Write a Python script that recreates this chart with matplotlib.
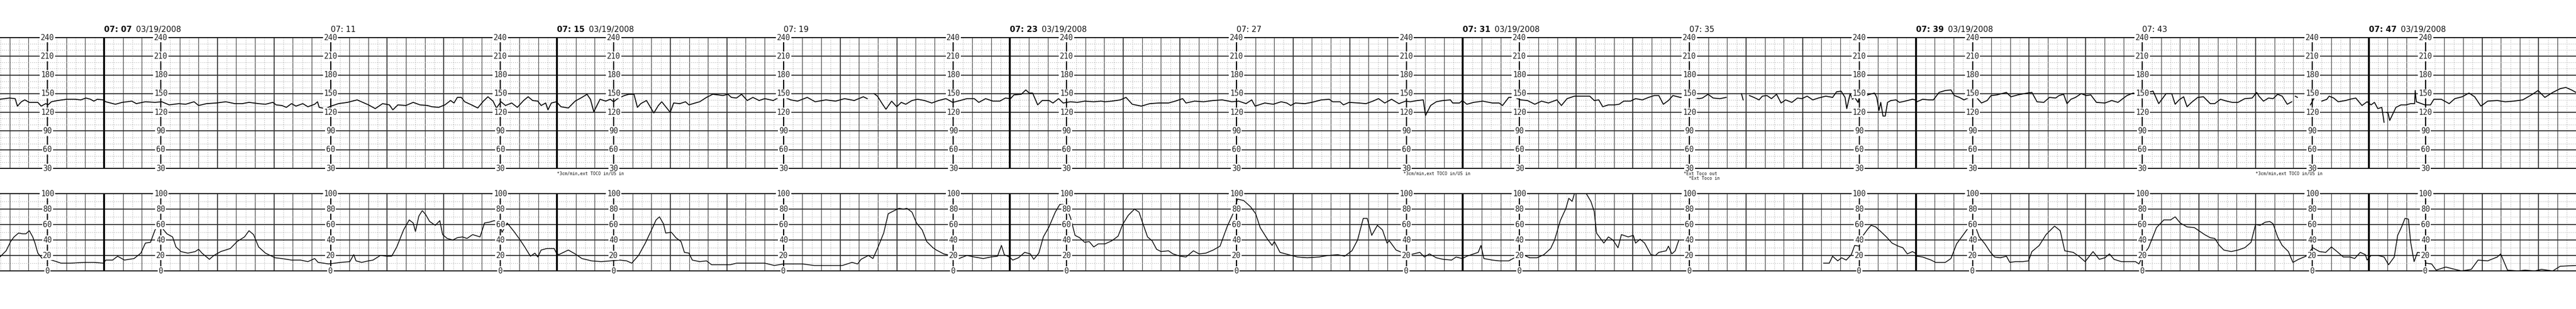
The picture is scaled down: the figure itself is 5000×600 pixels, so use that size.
import numpy as np
import matplotlib.pyplot as plt
from matplotlib.ticker import MultipleLocator

nan = np.nan

## trace samples, time in minutes after 07:00 ##
fhr_minutes = [
    5.16, 5.33, 5.43, 5.47, 5.54, 5.60, 5.68, 5.83, 5.89, 5.97, 6.01, 6.07, 6.18, 6.34, 6.49, 6.59, 6.68, 6.76, 6.82, 6.88,
    6.99, 7.03, 7.20, 7.32, 7.49, 7.57, 7.73, 7.90, 8.02, 8.15, 8.32, 8.44, 8.59, 8.67, 8.81, 8.98, 9.15, 9.31, 9.44, 9.56,
    9.73, 9.85, 9.98, 10.04, 10.14, 10.22, 10.31, 10.39, 10.51, 10.60, 10.72, 10.77, 10.80, 10.91, 11.01, 11.14, 11.30, 11.47, 11.57,
    11.67, 11.79, 11.92, 12.04, 12.10, 12.19, 12.33, 12.46, 12.58, 12.71, 12.79, 12.91, 13.02, 13.12, 13.18, 13.24, 13.31, 13.37,
    13.49, 13.60, 13.70, 13.78, 13.87, 13.93, 14.01, 14.09, 14.20, 14.30, 14.41, 14.49, 14.57, 14.66, 14.72, 14.80, 14.84, 14.90,
    14.99, 15.07, 15.20, 15.32, 15.44, 15.53, 15.59, 15.65, 15.76, 15.86, 15.94, 16.00, 16.07, 16.19, 16.27, 16.36, 16.42, 16.48,
    16.58, 16.71, 16.79, 16.85, 16.92, 17.00, 17.06, 17.17, 17.27, 17.33, 17.44, 17.52, 17.64, 17.75, 17.85, 17.93, 18.02, 18.08,
    18.17, 18.26, 18.36, 18.46, 18.57, 18.67, 18.82, 18.92, 19.02, 19.13, 19.25, 19.42, 19.56, 19.75, 19.92, 20.08, 20.25, 20.41,
    20.48, 20.54, 20.60, 20.66, 20.75, 20.81, 20.91, 21.00, 21.08, 21.16, 21.27, 21.37, 21.49, 21.62, 21.74, 21.87, 21.99, 22.12,
    22.24, 22.37, 22.45, 22.57, 22.70, 22.82, 22.92, 23.01, 23.07, 23.20, 23.28, 23.34, 23.40, 23.49, 23.57, 23.69, 23.76, 23.86,
    23.94, 24.07, 24.19, 24.32, 24.48, 24.61,
    24.68, 24.80, 24.95, 25.05, 25.16, 25.32, 25.47, 25.63, 25.80, 25.92, 26.05, 26.11, 26.26, 26.42, 26.59, 26.75, 26.92, 27.04,
    27.17, 27.27, 27.33, 27.50, 27.65, 27.79, 27.89, 27.96, 28.04, 28.21, 28.33, 28.50, 28.64, 28.70, 28.83, 28.89, 28.99, 29.16,
    29.29, 29.41, 29.51, 29.62, 29.74, 29.87, 29.99, 30.07, 30.20, 30.30, 30.34, 30.43, 30.53, 30.65, 30.78, 30.82, 30.94, 30.99, 31.07,
    31.19, 31.35, 31.52, 31.64, 31.70, 31.81, 31.91, 32.02, 32.14, 32.27, 32.39, 32.51, 32.66, 32.74, 32.84, 32.97, 33.09, 33.24,
    33.32, 33.40, 33.47, 33.57, 33.68, 33.76, 33.84, 33.96, 34.05, 34.17, 34.28, 34.38, 34.46, 34.54, 34.63, 34.71, 34.84, 34.92,
    35.04, 35.17, 35.23, 35.33, 35.42, 35.54, 35.65, 35.75, 35.92, 35.95, 36.00, 36.06, 36.14, 36.23, 36.29, 36.37, 36.45, 36.54,
    36.62, 36.70, 36.81, 36.91, 36.99, 37.08, 37.18, 37.28, 37.41, 37.53, 37.60, 37.68,
    37.75, 37.78, 37.84, 37.88, 37.92, 37.98, 38.00, 38.06, 38.15, 38.27, 38.31, 38.35, 38.38, 38.42, 38.46, 38.50, 38.56, 38.65,
    38.71, 38.81, 38.94, 38.99, 39.02, 39.12, 39.23, 39.31, 39.41, 39.52, 39.62, 39.68, 39.77, 39.85, 39.95, 40.06, 40.16, 40.26,
    40.33, 40.43, 40.60, 40.68, 40.80, 40.97, 41.05, 41.14, 41.26, 41.36, 41.47, 41.53, 41.61, 41.67, 41.74, 41.82, 41.92, 42.01,
    42.09, 42.19, 42.34, 42.46, 42.57, 42.67, 42.73, 42.84, 42.96, 43.04, 43.19, 43.29, 43.42, 43.52, 43.58, 43.65, 43.73, 43.79,
    43.87, 43.98, 44.08,
    44.20, 44.28, 44.38, 44.49, 44.59, 44.69, 44.81, 44.94, 45.02, 45.06, 45.14, 45.23, 45.31, 45.39, 45.47, 45.56, 45.64, 45.67,
    45.70, 45.74, 45.80, 45.97, 46.07, 46.12, 46.17, 46.26, 46.30, 46.38, 46.46, 46.59, 46.67, 46.77, 46.88, 46.97, 47.04, 47.10,
    47.16, 47.23, 47.27, 47.29, 47.31, 47.34, 47.37, 47.48, 47.57, 47.66, 47.74, 47.81, 47.82, 47.84, 47.99, 48.09, 48.15, 48.28,
    48.42, 48.52, 48.65, 48.77, 48.87, 48.98, 49.10, 49.27, 49.41, 49.56, 49.72, 49.89, 49.99, 50.11, 50.25, 50.38, 50.48, 50.58, 50.66,
]
fhr_bpm = [
    141, 143, 142, 130, 137, 140, 136, 136, 130, 134, 132, 137, 139, 141, 141, 140, 143, 141, 138, 141,
    140, 137, 133, 136, 138, 134, 137, 136, 137, 132, 134, 133, 137, 131, 134, 135, 137, 134, 134, 136,
    134, 133, 136, 132, 131, 128, 134, 130, 134, 129, 133, 137, 128, 126, 130, 134, 136, 140, 136,
    132, 126, 134, 132, 124, 132, 131, 136, 132, 131, 129, 128, 132, 139, 135, 144, 144, 137,
    132, 127, 138, 145, 138, 127, 137, 131, 135, 128, 139, 145, 139, 138, 131, 135, 124, 135,
    137, 129, 127, 138, 144, 149, 141, 121, 141, 138, 141, 137, 142, 147, 149, 149, 128, 134,
    139, 119, 131, 137, 129, 120, 135, 134, 137, 132, 135, 137, 144, 149, 148, 147, 149, 144,
    143, 149, 139, 144, 139, 142, 139, 144, 144, 140, 138, 144, 137, 140, 138, 142, 139, 145,
    142, nan, 150, 146, 133, 125, 138, 129, 136, 133, 139, 141, 139, 135, 139, 142, 136, 139,
    142, 142, 136, 142, 138, 138, 143, 142, 148, 149, 156, 151, 151, 132, 139, 139, 135, 142,
    135, 137, 136, 138, 137, 138,
    137, 138, 140, 144, 133, 130, 134, 135, 135, 138, 142, 135, 138, 137, 139, 140, 137, 138,
    134, 140, 130, 135, 133, 137, 135, 131, 135, 134, 136, 140, 141, 137, 137, 132, 136, 135,
    134, 138, 142, 135, 141, 134, 138, 137, 139, 140, 115, 131, 137, 139, 140, 135, 135, 139, 133,
    136, 138, 135, 135, 131, 144, 144, 140, 139, 133, 138, 135, 140, 131, 142, 146, 146, 146,
    139, 140, 129, 132, 132, 133, 138, 138, 142, 140, 144, 147, 147, 133, 139, 147, 144, 144,
    144, 142, 143, 149, 143, 142, 144, nan, 150, 140, nan, 147, 144, 140, 146, 147, 142, 149,
    135, 140, 136, 143, 142, 146, 140, 143, 146, 144, 153, 154,
    144, 126, 150, 141, 144, 136, 144, 144, 148, 151, 144, 123, 136, 114, 114, 136, 139, 140,
    136, 138, 141, 140, 137, 141, 140, 140, 152, 155, 156, 147, 144, 140, 144, 145, 135, 139,
    147, 148, 152, 145, 148, 151, 152, 137, 136, 144, 143, 147, 149, 134, 141, 144, 150, 147,
    148, 136, 135, 139, 136, 143, 147, 151, 147, 151, 154, 134, 150, 150, 133, 140, 145, 129,
    136, 144, 145,
    134, 134, 141, 138, 136, 136, 142, 143, 152, 146, 138, 143, 142, 149, 146, 133, 137, nan,
    146, 144, nan, 132, 149, nan, 138, 141, 146, 143, 137, 139, 141, 143, 131, 137, 132, 136,
    126, 128, 104, nan, 120, 119, 107, 128, 132, 132, 134, 134, 155, 137, 132, 132, 141, 141,
    134, 142, 145, 151, 145, 130, 138, 139, 137, 138, 140, 149, 155, 144, 152, 158, 160, 156, 152,
]

toco_minutes = [
    5.16, 5.27, 5.35, 5.41, 5.49, 5.56, 5.62, 5.68, 5.74, 5.78, 5.83, 5.91, 6.03, 6.16, 6.24, 6.41, 6.66, 6.82, 6.99, 7.03,
    7.15, 7.24, 7.36, 7.53, 7.65, 7.73, 7.82, 7.90, 7.94, 8.02, 8.11, 8.21, 8.27, 8.36, 8.48, 8.61, 8.67, 8.73, 8.86, 8.94,
    9.06, 9.23, 9.35, 9.48, 9.56, 9.64, 9.73, 9.85, 10.02, 10.14, 10.31, 10.47, 10.60, 10.72, 10.78, 10.97, 11.18, 11.34, 11.41,
    11.45, 11.55,
    11.67, 11.75, 11.88, 12.00, 12.08, 12.17, 12.29, 12.39, 12.46, 12.50, 12.56, 12.62, 12.68, 12.75, 12.85, 12.93, 12.98, 13.06,
    13.16, 13.24, 13.33, 13.41, 13.51, 13.64, 13.72, 13.80, 13.89, 13.97, 14.03, 14.12, 14.24, 14.34, 14.43, 14.53, 14.61, 14.66,
    14.72, 14.82, 14.95, 14.99, 15.03, 15.20, 15.32, 15.44, 15.61, 15.78, 15.94, 16.11, 16.23, 16.32, 16.44, 16.56, 16.65, 16.75,
    16.81, 16.88, 16.92, 17.02, 17.10, 17.19, 17.25, 17.33, 17.39, 17.52, 17.64, 17.73, 17.89, 18.06,
    18.17, 18.34, 18.51, 18.67, 18.84, 19.00, 19.17, 19.34, 19.54, 19.83, 20.04, 20.21, 20.31, 20.37, 20.50, 20.58, 20.66, 20.77,
    20.85, 20.93, 21.04, 21.12, 21.18, 21.27, 21.35, 21.45, 21.53, 21.64, 21.70, 21.83, 21.95, 22.10, 22.24, 22.37, 22.53, 22.66,
    22.78, 22.85, 22.90, 22.99, 23.05, 23.15, 23.26, 23.36, 23.42, 23.51, 23.59, 23.69, 23.80, 23.88, 23.94, 24.00, 24.07, 24.15,
    24.23, 24.32, 24.40, 24.48, 24.56,
    24.68, 24.80, 24.91, 24.99, 25.09, 25.20, 25.28, 25.34, 25.43, 25.51, 25.59, 25.67, 25.80, 25.88, 26.01, 26.11, 26.24, 26.34,
    26.46, 26.59, 26.71, 26.84, 26.94, 27.02, 27.13, 27.25, 27.34, 27.42, 27.54, 27.63, 27.67, 27.77, 27.92, 28.08, 28.25, 28.46,
    28.62, 28.79, 28.91, 29.04, 29.14, 29.24, 29.31, 29.39, 29.49, 29.58, 29.66, 29.70, 29.82, 29.95, 30.07, 30.24, 30.32, 30.41,
    30.53, 30.65, 30.80, 30.88, 30.99, 31.07,
    31.19, 31.27, 31.32, 31.37, 31.52, 31.64, 31.81, 31.91, 31.97, 32.06, 32.18, 32.31, 32.43, 32.55, 32.62, 32.72, 32.82, 32.87,
    32.93, 32.97, 33.18, 33.26, 33.32, 33.36, 33.49, 33.57, 33.65, 33.74, 33.80, 33.92, 34.01, 34.05, 34.13, 34.21, 34.32, 34.40,
    34.46, 34.59, 34.63, 34.69, 34.75, 34.81, 34.85, 37.37, 37.47, 37.53, 37.62,
    37.69, 37.77, 37.86, 37.92, 38.00, 38.06, 38.15, 38.21, 38.29, 38.38, 38.48, 38.58, 38.69, 38.77, 38.85, 38.94, 38.99, 39.02,
    39.12, 39.27, 39.35, 39.52, 39.62, 39.72, 39.85, 39.93, 40.06, 40.12, 40.22, 40.31, 40.39, 40.49, 40.60, 40.66, 40.76, 40.89,
    40.99, 41.05, 41.18, 41.30, 41.45, 41.55, 41.63, 41.78, 41.88, 41.99, 42.13, 42.24, 42.34, 42.42, 42.50, 42.63, 42.75, 42.88,
    42.94, 43.02, 43.11, 43.25, 43.38, 43.50, 43.58, 43.67, 43.79, 43.92, 44.00, 44.10,
    44.20, 44.28, 44.36, 44.44, 44.57, 44.69, 44.81, 44.92, 45.00, 45.08, 45.17, 45.25, 45.31, 45.39, 45.47, 45.58, 45.66, 45.76,
    45.89, 46.01, 46.13, 46.24, 46.34, 46.44, 46.55, 46.67, 46.75, 46.85, 46.94, 46.97, 47.04, 47.16, 47.27, 47.35, 47.45, 47.51,
    47.58, 47.64, 47.70, 47.74, 47.80, 47.86, 47.95, 48.01, 48.11, 48.19, 48.36, 48.52, 48.64, 48.81, 48.93, 49.10, 49.27, 49.33,
    49.45, 49.64, 49.76, 49.93, 50.05, 50.25, 50.38, 50.66,
]
toco_units = [
    18, 26, 38, 44, 49, 48, 48, 52, 44, 36, 23, 16, 15, 12, 10, 10, 11, 11, 10, 14,
    14, 19, 14, 16, 23, 36, 37, 53, 57, 56, 48, 44, 31, 25, 23, 25, 28, 23, 15, 20,
    25, 29, 38, 44, 52, 47, 31, 23, 17, 16, 14, 14, 12, 16, 11, 9, 11, 12, 21,
    13, 11,
    13, 14, 20, 19, 19, 31, 53, 66, 62, 51, 71, 78, 73, 64, 59, 65, 47, 42,
    40, 43, 44, 42, 47, 44, 62, 63, 65, 64, 50, 62, 51, 41, 31, 19, 23, 18,
    27, 29, 29, 23, 21, 27, 22, 16, 13, 12, 13, 14, 13, 10, 20, 36, 50, 66,
    70, 61, 49, 50, 43, 38, 24, 23, 14, 12, 13, 8, 8, 8,
    10, 10, 10, 10, 7, 9, 9, 9, 7, 7, 7, 11, 9, 15, 20, 16, 29, 49,
    74, 77, 81, 80, 81, 76, 62, 53, 38, 30, 27, 22, 20, 16, 20, 18, 16, 18,
    19, 33, 21, 18, 14, 17, 24, 22, 15, 23, 44, 57, 76, 86, 86, 81, 69, 46,
    43, 37, 38, 31, 35,
    35, 39, 45, 60, 72, 80, 76, 63, 44, 39, 28, 25, 26, 22, 19, 18, 26, 22,
    23, 27, 32, 58, 74, 93, 91, 83, 74, 56, 42, 33, 38, 24, 21, 18, 17, 18,
    20, 21, 19, 26, 40, 68, 68, 46, 59, 53, 36, 39, 27, 23, 21, 24, 18, 22,
    17, 15, 14, 18, 16, 19,
    22, 24, 33, 16, 14, 13, 13, 17, 16, 21, 17, 17, 21, 29, 40, 65, 81, 94,
    90, 100, 100, 90, 77, 49, 36, 44, 40, 30, 47, 44, 46, 36, 41, 36, 21, 20,
    24, 26, 32, 22, 26, 39, nan, 10, 10, 19, 13,
    17, 14, 21, 33, 32, 45, 54, 59, 57, 51, 44, 36, 32, 30, 22, 25, 23, 19,
    18, 14, 11, 11, 16, 35, 48, 56, 56, 44, 35, 25, 18, 17, 19, 11, 12, 12,
    13, 25, 33, 47, 58, 52, 26, 24, 19, 12, 25, 15, 17, 22, 15, 12, 12, 12,
    9, 21, 30, 56, 66, 66, 70, 62, 57, 56, 52, 47,
    43, 42, 33, 27, 25, 27, 30, 37, 60, 59, 63, 64, 61, 44, 33, 25, 11, 15,
    19, 30, 25, 24, 31, 25, 18, 18, 16, 24, 21, 14, 20, 20, 18, 8, 18, 46,
    57, 68, 67, 37, 12, 24, 23, 10, 9, 1, 5, 2, 0, 2, 14, 13, 18, 22,
    1, 0, 1, 0, 2, 0, 6, 7,
]

page_starts = [7, 15, 23, 31, 39, 47]
scale_columns = [6, 8, 11, 14, 16, 19, 22, 24, 27, 30, 32, 35, 38, 40, 43, 46, 48]
time_marks = [7, 11, 15, 19, 23, 27, 31, 35, 39, 43, 47]
date_text = '03/19/2008'
fhr_ticks = [240, 210, 180, 150, 120, 90, 60, 30]
toco_ticks = [100, 80, 60, 40, 20, 0]
note_minutes = [15.0, 29.95, 34.9, 45.0]
note_texts = ['*3cm/min,ext TOCO in/US in', '*3cm/min,ext TOCO in/US in',
              '*Ext Toco out\n  *Ext Toco in', '*3cm/min,ext TOCO in/US in']

t_left, t_right = 5.162, 50.66

fig = plt.figure(figsize=(50, 6), dpi=100)
fig.patch.set_facecolor('white')
ax_fhr = fig.add_axes([0, 0.455, 1, 0.4233])
ax_toco = fig.add_axes([0, 0.1233, 1, 0.25])


def paper(ax, lo, hi, major, ticks):
    ax.set_xlim(t_left, t_right)
    ax.set_ylim(lo, hi)
    for s in ax.spines.values():
        s.set_visible(False)
    ax.tick_params(which='both', length=0, labelbottom=False, labelleft=False)
    ax.xaxis.set_major_locator(MultipleLocator(1 / 3))
    ax.xaxis.set_minor_locator(MultipleLocator(1 / 6))
    ax.yaxis.set_major_locator(MultipleLocator(major))
    ax.yaxis.set_minor_locator(MultipleLocator(10))
    ax.set_axisbelow(True)
    ax.grid(which='minor', color='#999999', lw=0.8, ls=(0, (1, 2.5)))
    ax.grid(which='major', axis='x', color='#444444', lw=0.9)
    ax.grid(which='major', axis='y', color='#222222', lw=1.3)
    ax.vlines(np.arange(6, 51), lo, hi, color='#333333', lw=1.1, zorder=0.6)
    ax.vlines(page_starts, lo, hi, color='black', lw=2.6, zorder=1)
    ax.axhline(hi, color='#111111', lw=1.5, clip_on=False)
    ax.axhline(lo, color='#111111', lw=1.5, clip_on=False)
    for c in scale_columns:
        ax.vlines(c, lo, hi, color='black', lw=1.6, zorder=1)
        for v in ticks:
            ax.text(c, v, str(v), ha='center', va='center', family='DejaVu Sans Mono',
                    fontsize=10.5, color='#222222', zorder=3, clip_on=False,
                    bbox=dict(boxstyle='square,pad=0.12', fc='white', ec='none'))


paper(ax_fhr, 30, 240, 30, fhr_ticks)
paper(ax_toco, 0, 100, 20, toco_ticks)

ax_fhr.plot(fhr_minutes, fhr_bpm, color='black', lw=1.3, zorder=2)
ax_toco.plot(toco_minutes, toco_units, color='black', lw=1.1, zorder=2)

## time stamps above the strip ##
xt = ax_fhr.get_xaxis_transform()
for t in time_marks:
    is_page = t in page_starts
    ax_fhr.text(t, 1.063, '07: %02d' % t, transform=xt, ha='left', va='center',
                fontsize=11, fontweight='bold' if is_page else 'normal', color='#111111')
    if is_page:
        ax_fhr.annotate(date_text, xy=(t, 1.063), xycoords=xt, xytext=(62, 0),
                        textcoords='offset pixels', ha='left', va='center',
                        fontsize=11, color='#111111')

## printer notes under the FHR panel ##
for t, s in zip(note_minutes, note_texts):
    ax_fhr.text(t, -0.022, s, transform=xt, ha='left', va='top', family='DejaVu Sans Mono',
                fontsize=6, linespacing=1.1, color='#111111')

fig.savefig('out.png', dpi=100, facecolor='white')
